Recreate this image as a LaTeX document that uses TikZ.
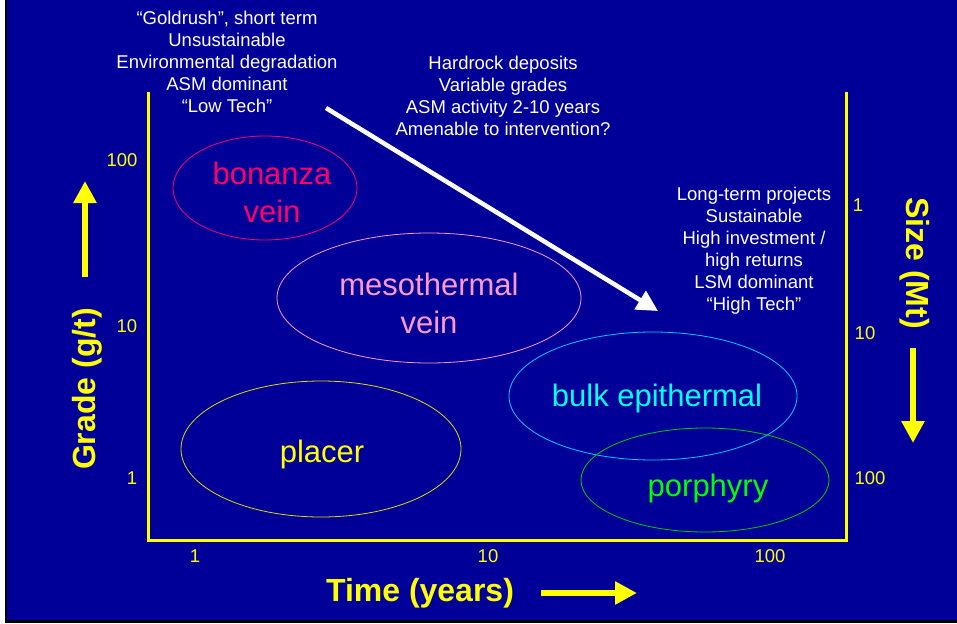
\documentclass[tikz,border=0pt]{standalone}
\usepackage{fontspec}
\setmainfont{Liberation Sans}
\usetikzlibrary{arrows.meta}

\definecolor{slide}{RGB}{0,0,153}
\definecolor{hiyellow}{RGB}{255,255,0}
\definecolor{bonanzared}{RGB}{255,0,102}
\definecolor{mesopink}{RGB}{255,153,204}
\definecolor{placerline}{RGB}{220,220,0}
\definecolor{bulkline}{RGB}{0,204,255}
\definecolor{bulktext}{RGB}{0,255,255}
\definecolor{porphline}{RGB}{0,204,0}
\definecolor{porphtext}{RGB}{0,255,0}

\begin{document}
\begin{tikzpicture}[x=1pt, y=-1pt,
  note/.style={text=white, align=center, font=\fontsize{18.5}{22}\selectfont},
  tick/.style={text=hiyellow, font=\fontsize{18.5}{22}\selectfont},
  axis/.style={text=hiyellow, font=\bfseries\fontsize{32}{36}\selectfont},
  deposit/.style={align=center, font=\fontsize{31}{38}\selectfont},
  fat/.style={hiyellow, line width=6pt, -{Triangle[length=22pt,width=22pt]}}]
  \useasboundingbox (0,0) rectangle (957,623);
  % slide background
  \fill[slide] (7,0) rectangle (957,623);
  \fill[black] (5,0) rectangle (7,623);
  \fill[black] (5,620) rectangle (957,623);
  % frame of the chart
  \draw[hiyellow, line width=3pt] (148,92) |- (846,540) -- (846,92);
  % ticks: time
  \node[tick] (t1)   at (195,556) {1};
  \node[tick] (t10)  at (488,556) {10};
  \node[tick] (t100) at (770,556) {100};
  % ticks: grade
  \node[tick] (g100) at (122,160) {100};
  \node[tick] (g10)  at (127,326) {10};
  \node[tick] (g1)   at (132,478) {1};
  % ticks: size
  \node[tick] (s1)   at (858,205) {1};
  \node[tick] (s10)  at (865,333) {10};
  \node[tick] (s100) at (870,478) {100};
  % axis titles and their arrows
  \node[axis] (time) at (420,593) {Time (years)};
  \coordinate (ta) at (541,593); \coordinate (tb) at (637,593);
  \draw[fat] (ta) -- (tb);
  \node[axis, rotate=90] (grade) at (87,389) {Grade (g/t)};
  \coordinate (ga) at (85,277); \coordinate (gb) at (85,181);
  \draw[fat] (ga) -- (gb);
  \node[axis, rotate=-90] (size) at (915,263) {Size (Mt)};
  \coordinate (sa) at (913,348); \coordinate (sb) at (913,443);
  \draw[fat] (sa) -- (sb);
  % deposit types
  \draw[bonanzared, line width=0.8pt] (265,188) ellipse [x radius=92pt, y radius=52pt];
  \node[deposit, text=bonanzared] (bonanza) at (272,192) {bonanza\\vein};
  \draw[mesopink, line width=0.8pt] (429,298) ellipse [x radius=152pt, y radius=65pt];
  \node[deposit, text=mesopink] (meso) at (429,303) {mesothermal\\vein};
  \draw[placerline, line width=0.8pt] (321,449) ellipse [x radius=140pt, y radius=68pt];
  \node[deposit, text=hiyellow] (placer) at (322,454) {placer};
  \draw[bulkline, line width=0.8pt] (653,396) ellipse [x radius=144pt, y radius=64pt];
  \node[deposit, text=bulktext] (bulk) at (657,398) {bulk epithermal};
  \draw[porphline, line width=0.8pt] (705,480) ellipse [x radius=124pt, y radius=52pt];
  \node[deposit, text=porphtext] (porph) at (708,488) {porphyry};
  % notes along the trend
  \node[note] (low) at (227,62) {“Goldrush”, short term\\Unsustainable\\Environmental degradation\\ASM dominant\\“Low Tech”};
  \node[note] (mid) at (503,96) {Hardrock deposits\\Variable grades\\ASM activity 2-10 years\\Amenable to intervention?};
  \node[note] (high) at (754,251) {Long-term projects\\Sustainable\\High investment /\\high returns\\LSM dominant\\“High Tech”};
  \coordinate (wa) at (326,108); \coordinate (wb) at (658,311);
  \draw[white, line width=4.5pt, -{Triangle[length=21pt,width=21pt]}] (wa) -- (wb);
\end{tikzpicture}
\end{document}
